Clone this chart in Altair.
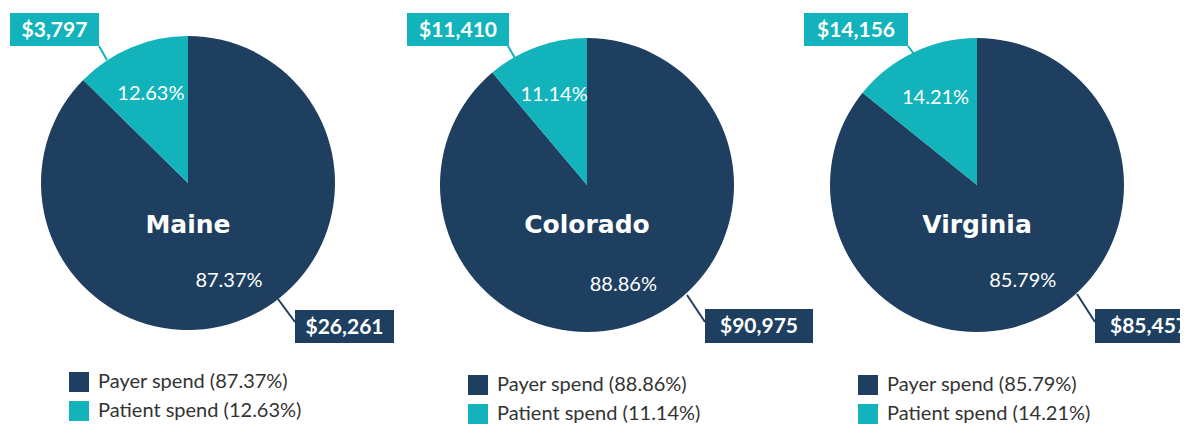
import altair as alt
import pandas as pd

# ---- data ----
states = ["Maine", "Colorado", "Virginia"]
payer_pct = [87.37, 88.86, 85.79]
patient_pct = [12.63, 11.14, 14.21]
payer_dollars = [26261, 90975, 85457]
patient_dollars = [3797, 11410, 14156]
parts = ["Payer spend", "Patient spend"]

NAVY = "#1e3f5f"
TEAL = "#12b3bb"

# ---- layout (pixels, relative to each panel) ----
LAYOUT = {
    "Maine": dict(w=399, cx=180, cy=175, leg_y=364, clip=False,
                  pbox=(2, 91, 5, 38), pline=(91, 38, 99, 52),
                  ybox=(287, 386, 302, 335), yline=(270, 291, 287, 314)),
    "Colorado": dict(w=390, cx=180, cy=177, leg_y=367, clip=False,
                     pbox=(0, 102, 5, 38), pline=(101, 38, 108, 50),
                     ybox=(298, 406, 301, 335), yline=(280, 287, 298, 314)),
    "Virginia": dict(w=383, cx=180, cy=177, leg_y=367, clip=True,
                     pbox=(7, 111, 5, 38), pline=(111, 38, 117, 46),
                     ybox=(298, 406, 301, 335), yline=(280, 286, 298, 314)),
}
R = 147
H = 417


def panel(i):
    st = states[i]
    L = LAYOUT[st]
    pay_lbl = f"Payer spend ({payer_pct[i]:.2f}%)"
    pat_lbl = f"Patient spend ({patient_pct[i]:.2f}%)"
    df = pd.DataFrame({
        "state": [st, st],
        "part": parts,
        "legend": [pay_lbl, pat_lbl],
        "pct": [payer_pct[i], patient_pct[i]],
        "dollars": [payer_dollars[i], patient_dollars[i]],
        "ord": [0, 1],
    })
    base = alt.Chart(df).transform_calculate(
        lbl="format(datum.pct, '.2f') + '%'"
    )
    theta = alt.Theta("pct:Q", stack=True)
    order = alt.Order("ord:Q")
    cx = alt.value(L["cx"])
    cy = alt.value(L["cy"])

    arc = base.mark_arc(outerRadius=R, strokeWidth=0).encode(
        theta=theta, order=order, x=cx, y=cy,
        color=alt.Color(
            "legend:N",
            scale=alt.Scale(domain=[pay_lbl, pat_lbl], range=[NAVY, TEAL]),
            legend=alt.Legend(
                orient="none", legendX=61, legendY=L["leg_y"], title=None,
                symbolType="square", symbolSize=400, symbolStrokeWidth=0,
                labelFont="Lato", labelFontSize=20, labelColor="#333333",
                labelOffset=9, rowPadding=9, labelLimit=400, padding=0,
                direction="vertical",
            ),
        ),
    )
    pct_pat = base.mark_text(radius=96, font="Lato", fontSize=20, color="white").encode(
        theta=theta, order=order, x=cx, y=cy,
        text=alt.Text("plbl:N"),
    ).transform_calculate(plbl="datum.part == 'Patient spend' ? datum.lbl : ''")
    pct_pay = base.mark_text(radius=106, font="Lato", fontSize=20, color="white").encode(
        theta=theta, order=order, x=cx, y=cy,
        text=alt.Text("ylbl:N"),
    ).transform_calculate(ylbl="datum.part == 'Payer spend' ? datum.lbl : ''")

    title = base.mark_text(font="DejaVu Sans", fontWeight="bold", fontSize=25,
                           color="white", baseline="alphabetic").encode(
        x=cx, y=alt.value(225), text=alt.Text("state:N")
    ).transform_filter("datum.ord == 0")

    layers = [arc, pct_pat, pct_pay, title]
    for key_box, key_line, partname, colr in [
        ("pbox", "pline", "Patient spend", TEAL),
        ("ybox", "yline", "Payer spend", NAVY),
    ]:
        x1, x2, y1, y2 = L[key_box]
        lx1, ly1, lx2, ly2 = L[key_line]
        sub = base.transform_filter(f"datum.part == '{partname}'")
        layers.append(sub.mark_rule(color=colr, strokeWidth=2).encode(
            x=alt.value(lx1), y=alt.value(ly1), x2=alt.value(lx2), y2=alt.value(ly2)))
        layers.append(sub.mark_rect(color=colr, clip=L["clip"]).encode(
            x=alt.value(x1), x2=alt.value(x2), y=alt.value(y1), y2=alt.value(y2)))
        layers.append(sub.mark_text(font="Lato", fontWeight="bold", fontSize=21,
                                    color="white", baseline="middle", align="center",
                                    clip=L["clip"]).encode(
            x=alt.value((x1 + x2) / 2), y=alt.value((y1 + y2) / 2 + 1),
            text=alt.Text("dollars:Q", format="$,.0f")))

    return alt.layer(*layers).properties(width=L["w"], height=H)


chart = alt.hconcat(*[panel(i) for i in range(3)], spacing=0, bounds="flush").resolve_scale(
    color="independent", theta="independent"
).properties(padding=0).configure_view(strokeWidth=0)

chart.save("out.html", embed_options={"renderer": "svg", "actions": False})
